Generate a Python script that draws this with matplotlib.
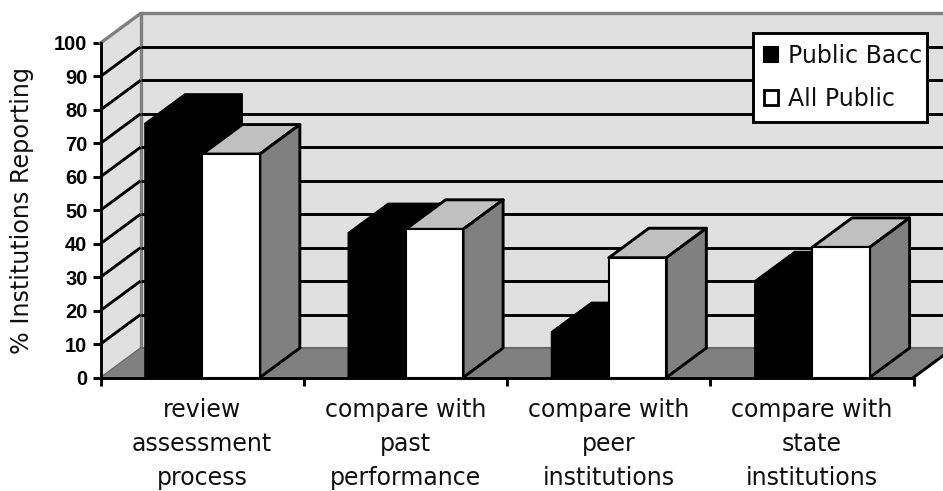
import matplotlib
matplotlib.use("Agg")
import matplotlib.pyplot as plt
from matplotlib.patches import Patch, Polygon

categories = ["review\nassessment\nprocess", "compare with\npast\nperformance",
              "compare with\npeer\ninstitutions", "compare with\nstate\ninstitutions"]
public_bacc = [76, 43.3, 13.7, 28.9]
all_public = [66.8, 44.3, 35.8, 38.9]
y_ticks = list(range(0, 101, 10))
series_names = ["Public Bacc", "All Public"]

W, H = 943, 491
fig = plt.figure(figsize=(W / 100, H / 100), dpi=100)
# front plane of the fake 3d box, in pixels
left, right, bottom, top = 100.5, 913.5, 377.5, 43
ax = fig.add_axes([left / W, 1 - bottom / H, (right - left) / W, (bottom - top) / H])
ax.set_xlim(0, 4)
ax.set_ylim(0, 100)
ax.patch.set_visible(False)

# depth offset in data units
dx = 40 / ((right - left) / 4)
dy = 29.5 / ((bottom - top) / 100)
bar_w = 0.283
gap = 0.218
wall = "#e0e0e0"
dark = "#808080"
light = "#c0c0c0"


def poly(pts, fc, ec="none", lw=0, z=1):
    p = Polygon(pts, closed=True, fc=fc, ec=ec, lw=lw, zorder=z, clip_on=False, joinstyle="round")
    ax.add_patch(p)


# walls and floor
x_end = 4 + dx
poly([(0, 0), (dx, dy), (dx, 100 + dy), (0, 100)], wall, z=1)
poly([(dx, dy), (x_end, dy), (x_end, 100 + dy), (dx, 100 + dy)], wall, z=1)
poly([(0, 0), (4, 0), (x_end, dy), (dx, dy)], dark, z=2)

ax.plot([dx, dx], [dy, 100 + dy], color=dark, lw=2.4, clip_on=False, zorder=3)
for v in y_ticks[1:-1]:
    ax.plot([0, dx], [v, v + dy], color="black", lw=2.1, clip_on=False, zorder=3, solid_capstyle="butt")
    ax.plot([dx, x_end], [v + dy, v + dy], color="black", lw=2.1, clip_on=False, zorder=3, solid_capstyle="butt")
ax.plot([0, dx, x_end], [100, 100 + dy, 100 + dy], color=dark, lw=2.4, clip_on=False, zorder=3)
ax.plot([dx, x_end], [dy, dy], color="#6a6a6a", lw=1.5, clip_on=False, zorder=3)
ax.plot([0, dx], [0, dy], color="#6a6a6a", lw=1, clip_on=False, zorder=3)
ax.plot([4, x_end], [0, dy], color="black", lw=2.1, clip_on=False, zorder=3)

# bars, black one behind the white one
for i in range(4):
    x0 = i + gap
    x1 = x0 + bar_w
    x2 = x1 + bar_w
    b = public_bacc[i]
    poly([(x0, 0), (x1, 0), (x1 + dx, dy), (x1 + dx, b + dy), (x0 + dx, b + dy), (x0, b)],
         "black", ec="black", lw=0.8, z=4)
    a = all_public[i]
    poly([(x1, a), (x2, a), (x2 + dx, a + dy), (x1 + dx, a + dy)], light, ec="black", lw=2.1, z=5)
    poly([(x2, 0), (x2 + dx, dy), (x2 + dx, a + dy), (x2, a)], dark, ec="black", lw=2.1, z=5)
    poly([(x1, 0), (x2, 0), (x2, a), (x1, a)], "white", ec="black", lw=1.5, z=6)

ax.spines["top"].set_visible(False)
ax.spines["right"].set_visible(False)
ax.spines["left"].set_linewidth(2.1)
ax.spines["bottom"].set_linewidth(2.1)
ax.spines["left"].set_zorder(8)
ax.spines["bottom"].set_zorder(8)

ax.set_yticks(y_ticks)
ax.set_yticklabels([str(v) for v in y_ticks], family="Liberation Sans", fontweight="bold", fontsize=14.5)
ax.tick_params(axis="y", length=5.8, width=2.1, pad=3.6)
ax.set_xticks([0, 1, 2, 3, 4])
ax.set_xticklabels([])
ax.tick_params(axis="x", length=5.8, width=2.1)
for i, c in enumerate(categories):
    ax.annotate(c, (i + 0.5, 0), xytext=(0, -14.5), textcoords="offset points", ha="center", va="top",
                fontsize=17, family="DejaVu Sans", linespacing=1.53, color="#111111")

fig.text(22 / W, 1 - 210.5 / H, "% Institutions Reporting", rotation=90, ha="center", va="center",
         fontsize=17.2, color="#111111")

handles = [Patch(fc="black", ec="black", lw=1.5), Patch(fc="white", ec="black", lw=2)]
leg = ax.legend(handles, series_names, loc="upper left", mode="expand",
                bbox_to_anchor=(752.7 / W, 1 - 122 / H, 174.3 / W, 89 / H), bbox_transform=fig.transFigure,
                fontsize=17, frameon=True, fancybox=False, framealpha=1, edgecolor="black",
                borderaxespad=0, borderpad=0.47, handlelength=0.62, handleheight=0.62,
                handletextpad=0.42, labelspacing=0.8, labelcolor="#111111")
leg.get_frame().set_linewidth(2.1)
leg.set_zorder(10)

fig.savefig("out.png", dpi=100)
